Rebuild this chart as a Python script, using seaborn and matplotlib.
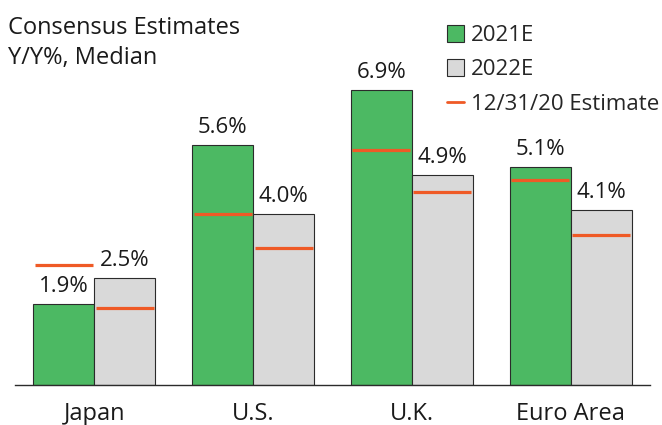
import numpy as np
import pandas as pd
import matplotlib
matplotlib.use("Agg")
import matplotlib.pyplot as plt
from matplotlib.lines import Line2D
from matplotlib.patches import Patch
import seaborn as sns

# ---------------------------------------------------------------------------
# Data (Y/Y %, median consensus)
# ---------------------------------------------------------------------------
REGIONS = ["Japan", "U.S.", "U.K.", "Euro Area"]
SERIES = ["2021E", "2022E"]
EST_2021 = [1.9, 5.6, 6.9, 5.1]
EST_2022 = [2.5, 4.0, 4.9, 4.1]
# estimates as of 12/31/20
PRIOR_2021 = [2.8, 4.0, 5.5, 4.8]
PRIOR_2022 = [1.8, 3.2, 4.5, 3.5]

GREEN = "#4cb963"
GRAY = "#d9d9d9"
ORANGE = "#ef5a26"
EDGE = "#2b2b2b"
TXT = "#1a1a1a"

sns.set_style("white")
plt.rcParams["font.family"] = ["Open Sans", "DejaVu Sans"]

df = pd.DataFrame({
    "region": REGIONS * 2,
    "series": [SERIES[0]] * len(REGIONS) + [SERIES[1]] * len(REGIONS),
    "value": EST_2021 + EST_2022,
})

fig = plt.figure(figsize=(6.62, 4.25), dpi=100)
ax = fig.add_axes([15 / 662, 40 / 425, 635 / 662, 8 * 42.8 / 425])

sns.barplot(data=df, x="region", y="value", hue="series",
            palette=[GREEN, GRAY], saturation=1, width=0.77, gap=0,
            edgecolor=EDGE, linewidth=0.8, ax=ax, legend=False)

# value labels + prior-estimate markers
for cont, prior in zip(ax.containers, [PRIOR_2021, PRIOR_2022]):
    ax.bar_label(cont, labels=[f"{b.get_height():.1f}%" for b in cont],
                 padding=5, fontsize=16, color=TXT)
    for bar, p in zip(cont, prior):
        x0 = bar.get_x()
        ax.hlines(p, x0 + 0.01, x0 + bar.get_width() - 0.01,
                  color=ORANGE, linewidth=2.3, zorder=5)

ax.set_xlim(-0.5, len(REGIONS) - 0.5)
ax.set_ylim(0, 8)
ax.set_xlabel("")
ax.set_ylabel("")
ax.set_yticks([])
for s in ["left", "right", "top"]:
    ax.spines[s].set_visible(False)
ax.spines["bottom"].set_color(EDGE)
ax.spines["bottom"].set_linewidth(1.0)

ax.set_xticks(np.arange(-0.5, len(REGIONS)), minor=True)
ax.tick_params(axis="x", which="major", length=0, labelsize=17, pad=12,
               labelcolor=TXT)
ax.tick_params(axis="x", which="minor", length=7, width=1.0, color=EDGE,
               direction="out")

# legend
handles = [
    Patch(facecolor=GREEN, edgecolor=EDGE, linewidth=0.8),
    Patch(facecolor=GRAY, edgecolor=EDGE, linewidth=0.8),
    Line2D([], [], color=ORANGE, linewidth=2),
]
fig.legend(handles, ["2021E", "2022E", "12/31/20 Estimate"],
           loc="upper left", bbox_to_anchor=(438 / 662, 1 - 16 / 425),
           frameon=False, fontsize=16, handlelength=0.78, handleheight=0.78,
           handletextpad=0.3, labelspacing=0.6, borderaxespad=0)

# titles
fig.text(8 / 662, 1 - 34 / 425, "Consensus Estimates", va="baseline",
         fontsize=17, color=TXT)
fig.text(8 / 662, 1 - 64 / 425, "Y/Y%, Median", va="baseline",
         fontsize=17, color=TXT)

fig.savefig("out.png", dpi=100)
